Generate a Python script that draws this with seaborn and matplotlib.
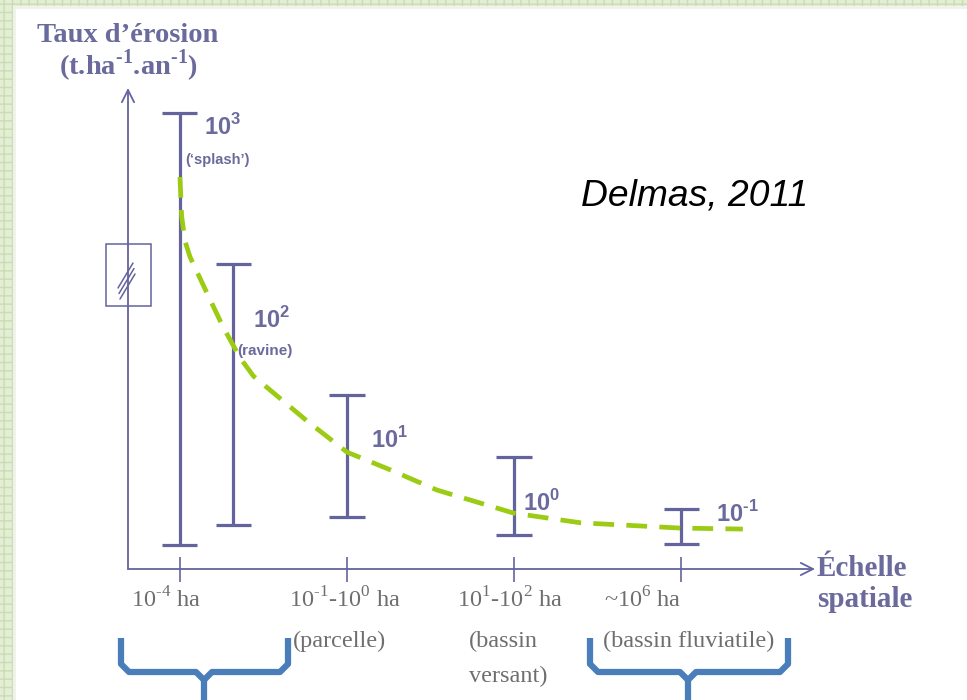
import numpy as np
import pandas as pd
import seaborn as sns
import matplotlib.pyplot as plt
from matplotlib.patches import Rectangle
from matplotlib.lines import Line2D

sns.set_theme(style="white")
plt.rcParams["mathtext.fontset"] = "custom"
plt.rcParams["mathtext.rm"] = "Liberation Serif"
plt.rcParams["mathtext.bf"] = "Liberation Serif:bold"
plt.rcParams["mathtext.sf"] = "Liberation Sans:bold"

# ---- data (schematic units: x = scale class index, y = relative erosion height) ----
bar_x = [0.0, 0.32, 1.0, 2.0, 3.0]
bar_low = [0.50, 0.92, 1.08, 0.70, 0.52]
bar_high = [9.48, 6.35, 3.62, 2.33, 1.25]
bar_labels = ["10$^{\\mathsf{3}}$", "10$^{\\mathsf{2}}$", "10$^{\\mathsf{1}}$",
              "10$^{\\mathsf{0}}$", "10$^{\\mathsf{\u20101}}$"]
bar_notes = ["(\u2018splash\u2019)", "(ravine)"]

curve_x = [0.0, 0.01, 0.03, 0.06, 0.16, 0.26, 0.36, 0.44, 0.76, 1.0, 1.26, 1.54, 2.0, 2.4, 3.0, 3.37]
curve_y = [8.15, 7.34, 6.82, 6.49, 5.75, 5.02, 4.39, 4.01, 3.08, 2.43, 2.06, 1.64, 1.16, 0.96, 0.85, 0.83]

tick_pos = [0, 1, 2, 3]
tick_labels = ["10$^{\u20104}$ ha", "10$^{\u20101}$-10$^{0}$ ha", "10$^{1}$-10$^{2}$ ha", "~10$^{6}$ ha"]
scale_names = ["(parcelle)", "(bassin", "versant)", "(bassin fluviatile)"]

PURPLE = "#63639E"
TXT = "#6A6A9C"
GRAY = "#6E6E6E"
GREEN = "#9BCB12"
BLUE = "#4A7EBB"

fig = plt.figure(figsize=(9.67, 7.0), dpi=100)
fig.patch.set_facecolor("white")

# decoration layer in pixel units
deco = fig.add_axes([0, 0, 1, 1])
deco.set_xlim(0, 967)
deco.set_ylim(700, 0)
deco.axis("off")

# slide border pattern
deco.add_patch(Rectangle((0, 0), 13, 700, facecolor="#E3EED5", edgecolor="#CADDB2",
                         hatch="++", lw=0))
deco.add_patch(Rectangle((0, 0), 967, 6, facecolor="#E3EED5", edgecolor="#CADDB2",
                         hatch="++", lw=0))
deco.add_line(Line2D([14, 14], [6, 700], color="#F0F0EC", lw=2))
deco.add_line(Line2D([14, 967], [7, 7], color="#F0F0EC", lw=2))

# main schematic axes
ax = fig.add_axes([128 / 967, (700 - 569) / 700, (815 - 128) / 967, (569 - 88) / 700])
ax.set_facecolor("none")
ax.set_xlim(-0.311, 3.802)
ax.set_ylim(0, 10)
for s in ax.spines.values():
    s.set_visible(False)
ax.set_yticks([])
ax.set_xticks(tick_pos)
ax.set_xticklabels([])
ax.tick_params(axis="x", direction="inout", length=18, width=1.2, color=PURPLE, bottom=True)

# axes with open arrowheads
arrow = dict(arrowstyle="->", color=PURPLE, lw=1.3, mutation_scale=22, shrinkA=0, shrinkB=0)
ax.annotate("", xy=(0, 1), xytext=(0, 0), xycoords="axes fraction", arrowprops=arrow)
ax.annotate("", xy=(1, 0), xytext=(0, 0), xycoords="axes fraction", arrowprops=arrow)

# min-max ranges
cap = 0.105
ax.vlines(bar_x, bar_low, bar_high, color=PURPLE, lw=2.3, zorder=3)
ax.hlines(bar_low, np.array(bar_x) - cap, np.array(bar_x) + cap, color=PURPLE, lw=2.3, zorder=3)
ax.hlines(bar_high, np.array(bar_x) - cap, np.array(bar_x) + cap, color=PURPLE, lw=2.3, zorder=3)

# decreasing trend
df = pd.DataFrame({"x": curve_x, "y": curve_y})
sns.lineplot(data=df, x="x", y="y", ax=ax, sort=False, color=GREEN, lw=3.4, zorder=4)
trend = ax.lines[-1]
trend.set_linestyle((0, (4.4, 2.6)))
trend.set_dash_capstyle("butt")
ax.set_xlabel("")
ax.set_ylabel("")

# axis-break box on the y axis
deco.add_patch(Rectangle((106, 244), 45, 62, fill=False, edgecolor=PURPLE, lw=1.1))
for k in range(3):
    deco.add_line(Line2D([118 + k, 133 + k], [288 + 5.5 * k, 263 + 5.5 * k], color=PURPLE, lw=1.1))

serif_b = dict(family="Liberation Serif", fontweight="bold", color=TXT, va="baseline")
serif = dict(family="Liberation Serif", color=GRAY, va="baseline")
sans_b = dict(family="Liberation Sans", fontweight="bold", color=TXT, va="baseline")

# axis titles
deco.text(128, 42, "Taux d\u2019\u00e9rosion", fontsize=20.5, ha="center", **serif_b)
deco.text(128, 75, "(t.ha$^{\\mathbf{\u20101}}$.an$^{\\mathbf{\u20101}}$)", fontsize=20.5,
          ha="center", **serif_b)
deco.text(817, 576, "\u00c9chelle", fontsize=21, **serif_b)
deco.text(817, 607, "spatiale", fontsize=21, **serif_b)

# scale labels
for cx, lab in zip([166, 345, 510, 643], tick_labels):
    deco.text(cx, 607, lab, fontsize=17.5, ha="center", **serif)
for (nx, ny), name in zip([(293, 647), (469, 647), (469, 682), (603, 647)], scale_names):
    deco.text(nx, ny, name, fontsize=17.5, **serif)

# order-of-magnitude labels
for (lx, ly), lab in zip([(204, 135), (253, 328), (371, 448), (523, 511), (716, 522)], bar_labels):
    deco.text(lx, ly, lab, fontsize=17, **sans_b)
deco.text(185, 164, bar_notes[0], fontsize=10.5, **sans_b)
deco.text(237, 355, bar_notes[1], fontsize=11, **sans_b)

# reference
deco.text(581, 205, "Delmas, 2011", fontsize=26.8, style="italic", va="baseline",
          family="Liberation Sans", color="black")

# grouping braces
for left, mid, right in [(121, 204, 288), (590, 688, 788)]:
    r = 8
    deco.add_line(Line2D([left, left, left + r, mid - r, mid, mid + r, right - r, right, right],
                         [638, 664, 672, 672, 680, 672, 672, 664, 638],
                         color=BLUE, lw=4.5, solid_joinstyle="round", solid_capstyle="butt"))
    deco.add_line(Line2D([mid, mid], [678, 701], color=BLUE, lw=4.5, solid_capstyle="butt"))

fig.savefig("out.png", dpi=100)
